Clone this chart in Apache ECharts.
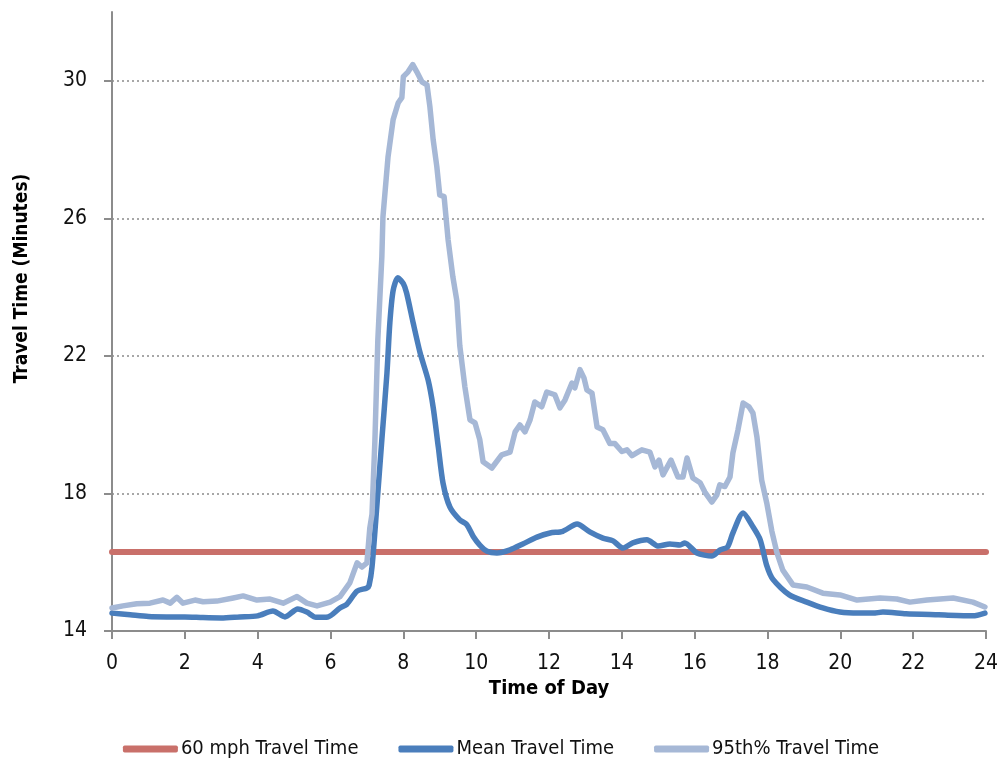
<!DOCTYPE html>
<head>
    <meta charset="utf-8"/>
    <style>
        html, body {
            height: 100%;
            margin: 0;
        }
        body {
            background-color: #fff;
        }
    </style>
    <script src="https://cdn.jsdelivr.net/npm/echarts@6/dist/echarts.min.js"></script>
</head>
<body>
<div id="main" style="height: 766px; width: 1002px;"></div>
<script type="text/javascript">
 // 60 mph reference travel time (minutes)
 var limitValue = 16.3;
 var limitHours = [0, 24];

 // mean travel time
 var meanHours = [0, 0.5, 1.0, 1.5, 2.0, 2.5, 3.0, 3.5, 4.0, 4.42, 4.75, 5.1, 5.35, 5.6, 5.93, 6.26, 6.45, 6.73, 7.0, 7.06,
     7.14, 7.27, 7.41, 7.55, 7.63, 7.72, 7.85, 8.0, 8.09, 8.27, 8.46, 8.68, 8.82, 8.96, 9.09, 9.28, 9.55, 9.74, 9.92, 10.1,
     10.3, 10.57, 10.93, 11.28, 11.67, 12.03, 12.38, 12.77, 13.12, 13.48, 13.76, 14.03, 14.3, 14.69, 15.0, 15.32, 15.6, 15.73, 16.06, 16.47,
     16.7, 16.9, 17.05, 17.33, 17.6, 17.8, 17.98, 18.15, 18.6, 19.08, 19.52, 19.99, 20.5, 20.9, 21.17, 21.8, 22.7, 23.64, 23.97];
 var meanValues = [14.52, 14.47, 14.42, 14.41, 14.41, 14.39, 14.38, 14.41, 14.44, 14.58, 14.41, 14.64, 14.55, 14.4, 14.41, 14.67, 14.78, 15.16, 15.25, 15.33,
     15.86, 17.6, 19.56, 21.5, 22.96, 23.9, 24.27, 24.1, 23.83, 22.96, 22.09, 21.3, 20.5, 19.35, 18.3, 17.6, 17.23, 17.1, 16.75, 16.5,
     16.32, 16.27, 16.36, 16.53, 16.73, 16.85, 16.9, 17.11, 16.88, 16.7, 16.62, 16.41, 16.56, 16.65, 16.47, 16.53, 16.5, 16.56, 16.27, 16.18,
     16.36, 16.44, 16.85, 17.43, 17.03, 16.65, 15.9, 15.5, 15.05, 14.84, 14.67, 14.55, 14.52, 14.52, 14.55, 14.5, 14.47, 14.44, 14.52];

 // 95th percentile travel time
 var p95Hours = [0, 0.3, 0.68, 1.04, 1.4, 1.6, 1.78, 1.95, 2.28, 2.5, 2.88, 3.33, 3.6, 3.98, 4.34, 4.7, 5.08, 5.35, 5.63, 5.99,
     6.26, 6.53, 6.73, 6.86, 7.0, 7.08, 7.14, 7.22, 7.3, 7.41, 7.44, 7.58, 7.72, 7.86, 7.96, 8.0, 8.13, 8.26, 8.37, 8.51,
     8.65, 8.73, 8.82, 8.92, 9.0, 9.12, 9.23, 9.36, 9.47, 9.55, 9.69, 9.83, 9.97, 10.1, 10.19, 10.43, 10.7, 10.93, 11.07, 11.2,
     11.34, 11.48, 11.61, 11.8, 11.94, 12.16, 12.3, 12.44, 12.63, 12.71, 12.85, 12.96, 13.04, 13.18, 13.32, 13.48, 13.67, 13.81, 14.0, 14.14,
     14.28, 14.44, 14.55, 14.77, 14.91, 15.02, 15.13, 15.35, 15.54, 15.68, 15.79, 15.95, 16.15, 16.28, 16.47, 16.61, 16.69, 16.83, 16.97, 17.05,
     17.19, 17.33, 17.49, 17.6, 17.71, 17.84, 17.98, 18.12, 18.26, 18.42, 18.7, 19.08, 19.52, 19.99, 20.46, 21.09, 21.55, 21.91, 22.38, 23.1,
     23.64, 23.97];
 var p95Values = [14.67, 14.73, 14.79, 14.81, 14.9, 14.81, 14.98, 14.81, 14.9, 14.85, 14.87, 14.96, 15.02, 14.9, 14.93, 14.81, 15.0, 14.81, 14.73, 14.84,
     15.0, 15.4, 15.98, 15.86, 15.98, 17.0, 17.4, 19.56, 22.47, 24.88, 26.04, 27.79, 28.87, 29.36, 29.51, 30.12, 30.26, 30.47, 30.26, 29.97,
     29.88, 29.24, 28.28, 27.5, 26.68, 26.63, 25.37, 24.3, 23.6, 22.3, 21.1, 20.14, 20.05, 19.56, 18.92, 18.74, 19.12, 19.2, 19.79, 19.99,
     19.79, 20.14, 20.66, 20.52, 20.95, 20.87, 20.49, 20.72, 21.21, 21.07, 21.6, 21.36, 21.01, 20.92, 19.93, 19.85, 19.45, 19.45, 19.22, 19.27,
     19.1, 19.2, 19.27, 19.2, 18.77, 18.97, 18.54, 18.97, 18.48, 18.48, 19.03, 18.45, 18.31, 18.04, 17.75, 17.96, 18.25, 18.2, 18.48, 19.18,
     19.85, 20.63, 20.52, 20.34, 19.64, 18.39, 17.72, 16.9, 16.27, 15.77, 15.34, 15.28, 15.1, 15.05, 14.9, 14.96, 14.93, 14.84, 14.9, 14.96,
     14.84, 14.7];

 var seriesNames = ['60 mph Travel Time', 'Mean Travel Time', '95th% Travel Time'];
 var seriesColors = ['#C9706A', '#4A7EBC', '#A6B8D6'];

 function pairs(xs, ys) {
     var out = [];
     for (var i = 0; i < xs.length; i++) {
         out.push([xs[i], ys[i]]);
     }
     return out;
 }

 var fontName = '"Liberation Sans Narrow", "DejaVu Sans Condensed", sans-serif';

 var options = {
     animation: false,
     textStyle: { fontFamily: fontName },
     grid: {
         left: 112,
         right: 16,
         top: 12,
         bottom: 135
     },
     xAxis: {
         type: 'value',
         min: 0,
         max: 24,
         interval: 2,
         name: 'Time of Day',
         nameLocation: 'middle',
         nameGap: 40,
         nameTextStyle: { color: '#000', fontSize: 20, fontWeight: 'bold', fontFamily: fontName },
         axisLine: { lineStyle: { color: '#8c8c8c', width: 2 } },
         axisTick: { show: true, length: 8, lineStyle: { color: '#8c8c8c', width: 2 } },
         axisLabel: { color: '#111', fontSize: 21, margin: 22, fontFamily: fontName },
         splitLine: { show: false }
     },
     yAxis: {
         type: 'value',
         min: 14,
         max: 32,
         interval: 4,
         name: 'Travel Time (Minutes)',
         nameLocation: 'middle',
         nameGap: 80,
         nameTextStyle: { color: '#000', fontSize: 19, fontWeight: 'bold', fontFamily: fontName, padding: [0, 0, 0, 86] },
         axisLine: { show: true, lineStyle: { color: '#8c8c8c', width: 2 } },
         axisTick: { show: true, length: 8, lineStyle: { color: '#8c8c8c', width: 2 } },
         axisLabel: { color: '#111', fontSize: 21, margin: 25, showMaxLabel: false, fontFamily: fontName },
         splitLine: {
             show: true,
             showMinLine: false,
             showMaxLine: false,
             lineStyle: { color: '#8a8a8a', width: 1.5, type: [2, 3] }
         }
     },
     legend: {
         bottom: 2,
         left: 'center',
         itemWidth: 55,
         itemHeight: 7,
         itemGap: 40,
         icon: 'roundRect',
         textStyle: { color: '#111', fontSize: 20, fontFamily: fontName, padding: [0, 0, 0, -2] },
         data: seriesNames
     },
     series: [{
         name: seriesNames[0],
         type: 'line',
         showSymbol: false,
         symbol: 'none',
         color: seriesColors[0],
         lineStyle: { width: 6, cap: 'round' },
         data: pairs(limitHours, [limitValue, limitValue])
     }, {
         name: seriesNames[1],
         type: 'line',
         showSymbol: false,
         symbol: 'none',
         smooth: 0.25,
         color: seriesColors[1],
         lineStyle: { width: 5.5, cap: 'round', join: 'round' },
         data: pairs(meanHours, meanValues)
     }, {
         name: seriesNames[2],
         type: 'line',
         showSymbol: false,
         symbol: 'none',
         color: seriesColors[2],
         lineStyle: { width: 5.5, cap: 'round', join: 'round' },
         data: pairs(p95Hours, p95Values)
     }]
 };

 var myChart = echarts.init(document.getElementById('main'));
 myChart.setOption(options);
</script>
</body>
